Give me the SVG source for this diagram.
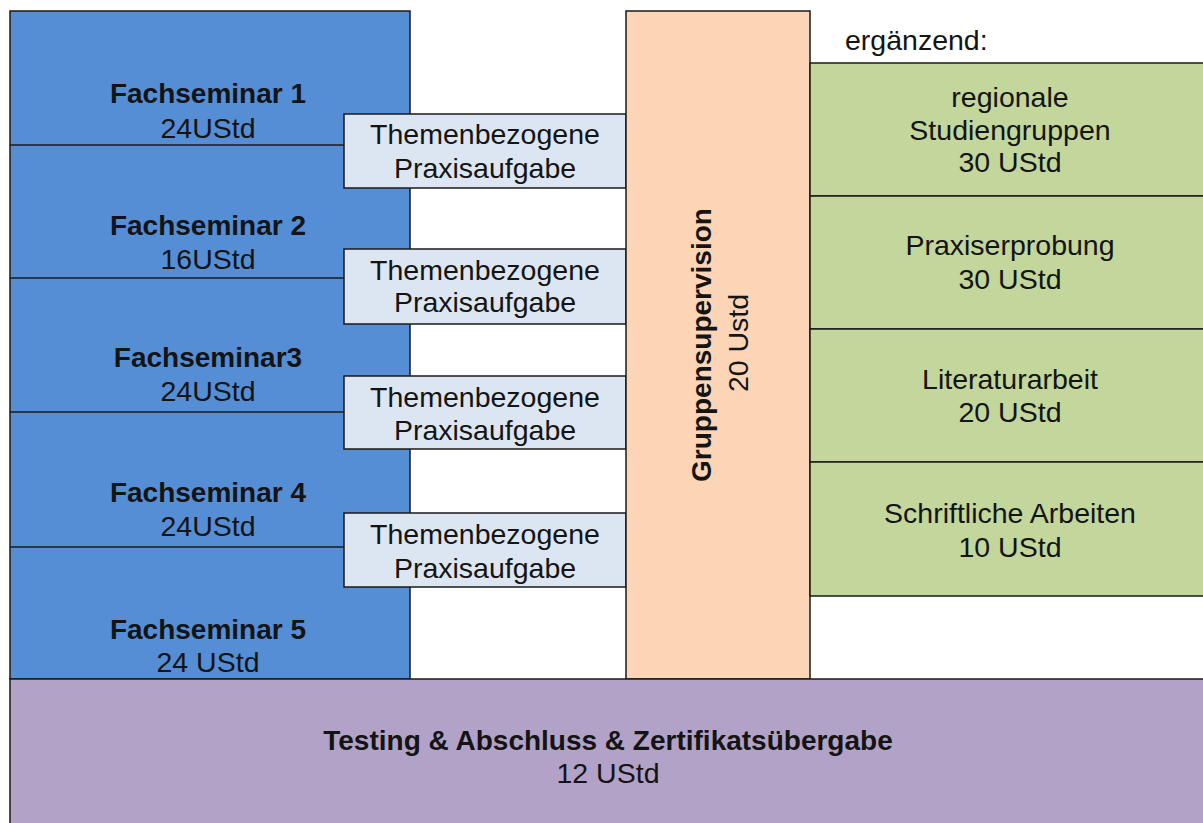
<svg xmlns="http://www.w3.org/2000/svg" width="1203" height="823" viewBox="0 0 1203 823">
<style>
.b{stroke:#1a1a1a;stroke-width:1.5}
.t{font-family:"Liberation Sans",Arial,sans-serif;font-size:28.5px;fill:#141414;text-anchor:middle}
.bd{font-weight:bold;font-size:28px}
</style>
<rect width="1203" height="823" fill="#fff"/>
<g id="fachseminare">
<rect class="b" x="10" y="11" width="400" height="668" fill="#558ED5"/>
<line class="b" x1="10" y1="145" x2="344" y2="145"/>
<line class="b" x1="10" y1="278" x2="344" y2="278"/>
<line class="b" x1="10" y1="412" x2="344" y2="412"/>
<line class="b" x1="10" y1="547" x2="344" y2="547"/>
</g>
<g id="fs1"><text class="t bd" x="208" y="103">Fachseminar 1</text><text class="t" x="208" y="138">24UStd</text></g>
<g id="fs2"><text class="t bd" x="208" y="235">Fachseminar 2</text><text class="t" x="208" y="269">16UStd</text></g>
<g id="fs3"><text class="t bd" x="208" y="367">Fachseminar3</text><text class="t" x="208" y="401">24UStd</text></g>
<g id="fs4"><text class="t bd" x="208" y="502">Fachseminar 4</text><text class="t" x="208" y="536">24UStd</text></g>
<g id="fs5"><text class="t bd" x="208" y="639">Fachseminar 5</text><text class="t" x="208" y="672">24 UStd</text></g>
<g id="tp1"><rect class="b" x="344" y="114" width="282" height="74" fill="#DCE6F2"/><text class="t" x="485" y="144">Themenbezogene</text><text class="t" x="485" y="178">Praxisaufgabe</text></g>
<g id="tp2"><rect class="b" x="344" y="249" width="282" height="75" fill="#DCE6F2"/><text class="t" x="485" y="280">Themenbezogene</text><text class="t" x="485" y="312">Praxisaufgabe</text></g>
<g id="tp3"><rect class="b" x="344" y="376" width="282" height="73" fill="#DCE6F2"/><text class="t" x="485" y="407">Themenbezogene</text><text class="t" x="485" y="440">Praxisaufgabe</text></g>
<g id="tp4"><rect class="b" x="344" y="513" width="282" height="74" fill="#DCE6F2"/><text class="t" x="485" y="544">Themenbezogene</text><text class="t" x="485" y="578">Praxisaufgabe</text></g>
<g id="gruppensupervision"><rect class="b" x="626" y="11" width="184" height="668" fill="#FBD5B5"/>
<text class="t bd" transform="translate(711,345) rotate(-90)">Gruppensupervision</text>
<text class="t" transform="translate(748,343) rotate(-90)">20 Ustd</text></g>
<g id="ergaenzend"><text class="t" x="845" y="50" style="text-anchor:start">ergänzend:</text></g>
<g id="g1"><rect class="b" x="810" y="63" width="400" height="133" fill="#C3D69B"/><text class="t" x="1010" y="107">regionale</text><text class="t" x="1010" y="140">Studiengruppen</text><text class="t" x="1010" y="172">30 UStd</text></g>
<g id="g2"><rect class="b" x="810" y="196" width="400" height="133" fill="#C3D69B"/><text class="t" x="1010" y="255">Praxiserprobung</text><text class="t" x="1010" y="289">30 UStd</text></g>
<g id="g3"><rect class="b" x="810" y="329" width="400" height="133" fill="#C3D69B"/><text class="t" x="1010" y="389">Literaturarbeit</text><text class="t" x="1010" y="422">20 UStd</text></g>
<g id="g4"><rect class="b" x="810" y="462" width="400" height="134" fill="#C3D69B"/><text class="t" x="1010" y="523">Schriftliche Arbeiten</text><text class="t" x="1010" y="557">10 UStd</text></g>
<g id="abschluss"><rect class="b" x="10" y="679" width="1200" height="150" fill="#B2A2C7"/><text class="t bd" x="608" y="750">Testing &amp; Abschluss &amp; Zertifikatsübergabe</text><text class="t" x="608" y="783">12 UStd</text></g>
<g id="connectors"/>
</svg>
